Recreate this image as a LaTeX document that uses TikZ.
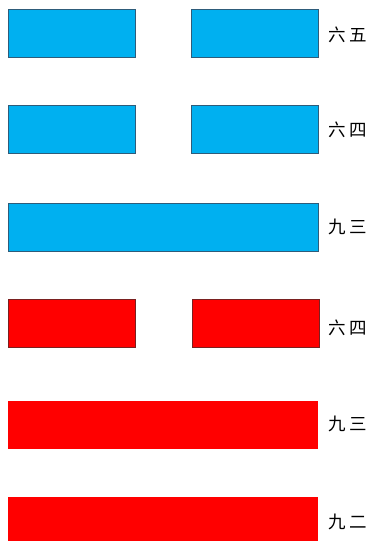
\documentclass[tikz,border=0pt]{standalone}
\usepackage{fontspec}
\newfontfamily\cjk{Noto Sans CJK SC}
\definecolor{yinblue}{HTML}{00B0F0}
\definecolor{blueedge}{HTML}{2E5C7A}
\definecolor{yinred}{HTML}{FF0000}
\definecolor{rededge}{HTML}{7A2020}
\tikzset{
  bar/.style={rectangle, inner sep=0pt, outer sep=0pt, minimum height=48pt, line width=0.7pt},
  halfbar/.style={bar, minimum width=127pt},
  fullbar/.style={bar, minimum width=310pt},
  bluebar/.style={fill=yinblue, draw=blueedge},
  redbar/.style={fill=yinred, draw=rededge},
  lbl/.style={inner sep=0pt, font=\cjk\fontsize{17.5pt}{17.5pt}\selectfont, text=black}
}
\begin{document}
\begin{tikzpicture}[x=1pt,y=-1pt]
\useasboundingbox (0,0) rectangle (371,541);
% row 1 (top): broken, blue
\node[halfbar,bluebar] (r1l) at (71.5,33) {};
\node[halfbar,bluebar] (r1r) at (255,33) {};
\node[lbl] (t1) at (347.5,35) {六\hspace{4pt}五};
% row 2: broken, blue
\node[halfbar,bluebar] (r2l) at (71.5,129.5) {};
\node[halfbar,bluebar] (r2r) at (255,129.5) {};
\node[lbl] (t2) at (347.5,130) {六\hspace{4pt}四};
% row 3: solid, blue
\node[fullbar,bluebar] (r3) at (163,227) {};
\node[lbl] (t3) at (347.5,227) {九\hspace{4pt}三};
% row 4: broken, red
\node[halfbar,redbar] (r4l) at (72,323) {};
\node[halfbar,redbar] (r4r) at (255.5,323) {};
\node[lbl] (t4) at (347.5,328) {六\hspace{4pt}四};
% row 5: solid, red
\node[fullbar,fill=yinred,draw=none] (r5) at (163,425) {};
\node[lbl] (t5) at (347.5,424) {九\hspace{4pt}三};
% row 6: solid, red (cut at bottom)
\node[fullbar,fill=yinred,draw=none] (r6) at (163,521) {};
\node[lbl] (t6) at (347.5,522) {九\hspace{4pt}二};
\end{tikzpicture}
\end{document}
